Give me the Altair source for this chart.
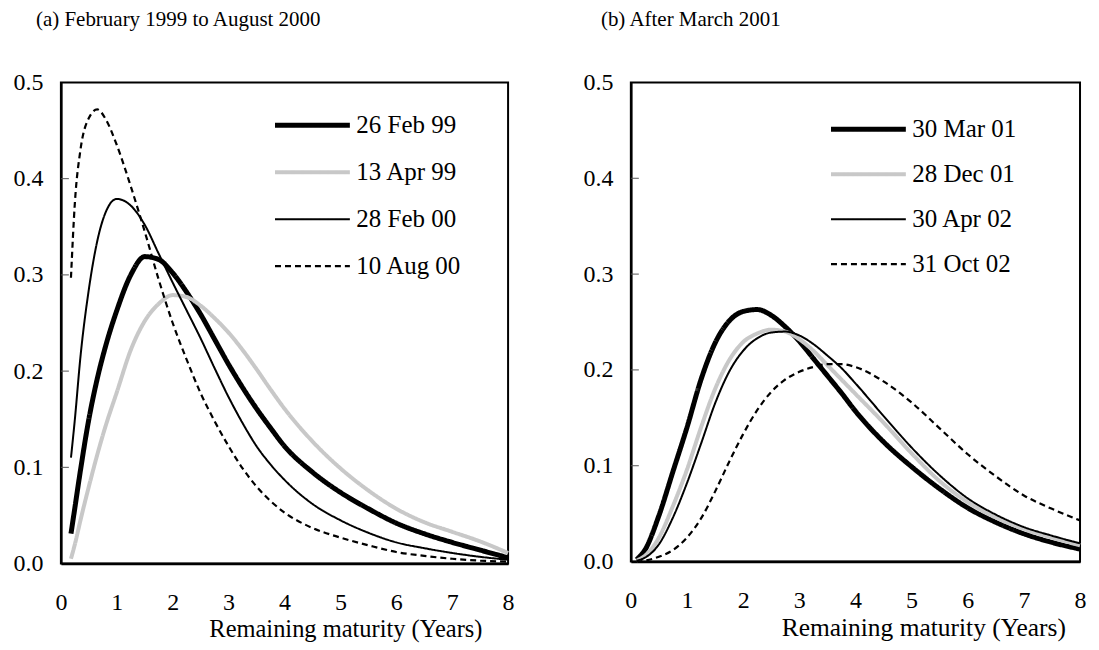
import altair as alt
import pandas as pd

# ---------------- Panel (a) data ----------------
x_a = [0.18, 0.25, 0.35, 0.5, 0.65, 0.8, 1.0, 1.25, 1.5, 1.75, 2.0, 2.25, 2.5, 2.75,
       3.0, 3.25, 3.5, 3.75, 4.0, 4.5, 5.0, 5.5, 6.0, 6.5, 7.0, 7.5, 8.0]
feb99 = [0.031, 0.058, 0.097, 0.150, 0.192, 0.226, 0.263, 0.300, 0.319, 0.316, 0.302, 0.282,
         0.259, 0.233, 0.207, 0.183, 0.161, 0.141, 0.122, 0.095, 0.074, 0.057, 0.042, 0.031,
         0.022, 0.014, 0.006]
apr99 = [0.005, 0.020, 0.045, 0.080, 0.113, 0.143, 0.178, 0.222, 0.252, 0.270, 0.279, 0.277,
         0.268, 0.255, 0.240, 0.222, 0.202, 0.181, 0.161, 0.127, 0.099, 0.076, 0.057, 0.043,
         0.033, 0.023, 0.011]
feb00 = [0.110, 0.150, 0.215, 0.285, 0.335, 0.365, 0.379, 0.372, 0.352, 0.322, 0.292, 0.263,
         0.234, 0.203, 0.173, 0.146, 0.122, 0.103, 0.087, 0.062, 0.045, 0.032, 0.022, 0.016,
         0.011, 0.007, 0.004]
aug00 = [0.297, 0.375, 0.430, 0.463, 0.472, 0.462, 0.435, 0.392, 0.345, 0.295, 0.250, 0.212,
         0.177, 0.148, 0.122, 0.099, 0.080, 0.065, 0.053, 0.037, 0.027, 0.019, 0.012, 0.008,
         0.005, 0.003, 0.002]
labels_a = ["26 Feb 99", "13 Apr 99", "28 Feb 00", "10 Aug 00"]

# ---------------- Panel (b) data ----------------
x_b = [0.1, 0.25, 0.5, 0.75, 1.0, 1.25, 1.5, 1.75, 2.0, 2.25, 2.5, 2.75, 3.0, 3.25, 3.5,
       3.75, 4.0, 4.5, 5.0, 5.5, 6.0, 6.5, 7.0, 7.5, 8.0]
mar01 = [0.002, 0.012, 0.048, 0.094, 0.140, 0.190, 0.228, 0.251, 0.261, 0.263, 0.257, 0.245,
         0.230, 0.212, 0.194, 0.176, 0.157, 0.125, 0.099, 0.076, 0.056, 0.041, 0.029, 0.020,
         0.013]
dec01 = [0.001, 0.006, 0.025, 0.058, 0.096, 0.140, 0.180, 0.210, 0.229, 0.238, 0.242, 0.240,
         0.232, 0.220, 0.205, 0.190, 0.175, 0.145, 0.113, 0.084, 0.062, 0.046, 0.034, 0.025,
         0.017]
apr02 = [0.001, 0.004, 0.018, 0.046, 0.082, 0.123, 0.165, 0.198, 0.220, 0.233, 0.239, 0.240,
         0.236, 0.227, 0.215, 0.202, 0.186, 0.152, 0.119, 0.090, 0.066, 0.049, 0.036, 0.027,
         0.019]
oct02 = [0.000, 0.001, 0.005, 0.012, 0.025, 0.045, 0.073, 0.104, 0.133, 0.158, 0.177, 0.190,
         0.198, 0.203, 0.206, 0.206, 0.203, 0.188, 0.166, 0.139, 0.112, 0.089, 0.069, 0.055,
         0.043]
labels_b = ["30 Mar 01", "28 Dec 01", "30 Apr 02", "31 Oct 02"]

y_ticks = [0.1, 0.2, 0.3, 0.4]
x_ticks = [0, 1, 2, 3, 4, 5, 6, 7, 8]
y_tick_labels = [0.0, 0.1, 0.2, 0.3, 0.4, 0.5]

line_colors = ["black", "#c8c8c8", "black", "black"]
line_widths = [5, 4, 2, 2.2]
line_dashes = [[1, 0], [1, 0], [1, 0], [6, 4]]

FONT = "Liberation Serif"


def long_df(xs, series, names):
    rows = []
    for name, ys in zip(names, series):
        for xv, yv in zip(xs, ys):
            rows.append({"x": xv, "y": yv, "series": name})
    return pd.DataFrame(rows)


def panel(df, names, title, title_dx, legend_x, legend_y, row_pad, width, height,
          title_x, axis_title_size):
    legend = alt.Legend(
        orient="none", legendX=legend_x, legendY=legend_y, title=None,
        symbolType="stroke", symbolSize=5625, labelFont=FONT, labelFontSize=25,
        labelColor="black", clipHeight=30, rowPadding=row_pad, padding=0, labelOffset=4,
    )
    y_enc = alt.Y("y:Q", scale=alt.Scale(domain=[0, 0.5], nice=False),
                  axis=alt.Axis(values=y_tick_labels, format=".1f", tickSize=0, labelPadding=18,
                                domain=True, domainColor="black", domainWidth=2.5, grid=False,
                                labelFont=FONT, labelFontSize=24, labelColor="black",
                                title=None))
    lines = alt.Chart(df).mark_line(interpolate="monotone").encode(
        x=alt.X("x:Q", scale=alt.Scale(domain=[0, 8], nice=False),
                axis=alt.Axis(values=x_ticks, format="d", tickSize=0, labelPadding=27,
                              domain=True, domainColor="black", domainWidth=2.5, grid=False,
                              labelFont=FONT, labelFontSize=24, labelColor="black",
                              labelFlush=False, labelOverlap=False,
                              title="Remaining maturity (Years)", titleFont=FONT,
                              titleFontSize=axis_title_size, titleFontWeight="normal",
                              titleColor="black", titlePadding=3, titleX=title_x,
                              titleAlign="center")),
        y=y_enc,
        color=alt.Color("series:N", scale=alt.Scale(domain=names, range=line_colors),
                        legend=legend),
        strokeDash=alt.StrokeDash("series:N", scale=alt.Scale(domain=names, range=line_dashes),
                                  legend=legend),
        strokeWidth=alt.StrokeWidth("series:N",
                                    scale=alt.Scale(type="ordinal", domain=names, range=line_widths),
                                    legend=legend),
    )
    ticks = alt.Chart(pd.DataFrame({"y": y_ticks})).mark_rule(color="#555555", strokeWidth=1).encode(
        y=y_enc,
        x=alt.value(0), x2=alt.value(8),
    )
    return alt.layer(lines, ticks).properties(
        width=width, height=height,
        title=alt.TitleParams(text=title, anchor="start", frame="group", dx=title_dx,
                              font=FONT, fontSize=21, fontWeight="normal", color="black",
                              offset=41),
    )


df_a = long_df(x_a, [feb99, apr99, feb00, aug00], labels_a)
df_b = long_df(x_b, [mar01, dec01, apr02, oct02], labels_b)

left = panel(df_a, labels_a, "(a) February 1999 to August 2000", -25, 212, 28, 17, 448, 482,
             285, 24.5)
right = panel(df_b, labels_b, "(b) After March 2001", -30, 198, 32, 15, 450, 480, 293, 25.5)

chart = alt.hconcat(left, right, spacing=63).resolve_scale(
    color="independent", strokeDash="independent", strokeWidth="independent"
).resolve_legend(
    color="independent", strokeDash="independent", strokeWidth="independent"
).properties(
    padding={"left": 4, "top": -1, "right": 0, "bottom": 0}
).configure_view(
    stroke="black", strokeWidth=2
).configure_legend(
    labelFont=FONT
).configure_axis(
    labelFont=FONT, titleFont=FONT
).configure_title(
    font=FONT
)

chart.save("out.html", embed_options={"renderer": "svg", "actions": False})
